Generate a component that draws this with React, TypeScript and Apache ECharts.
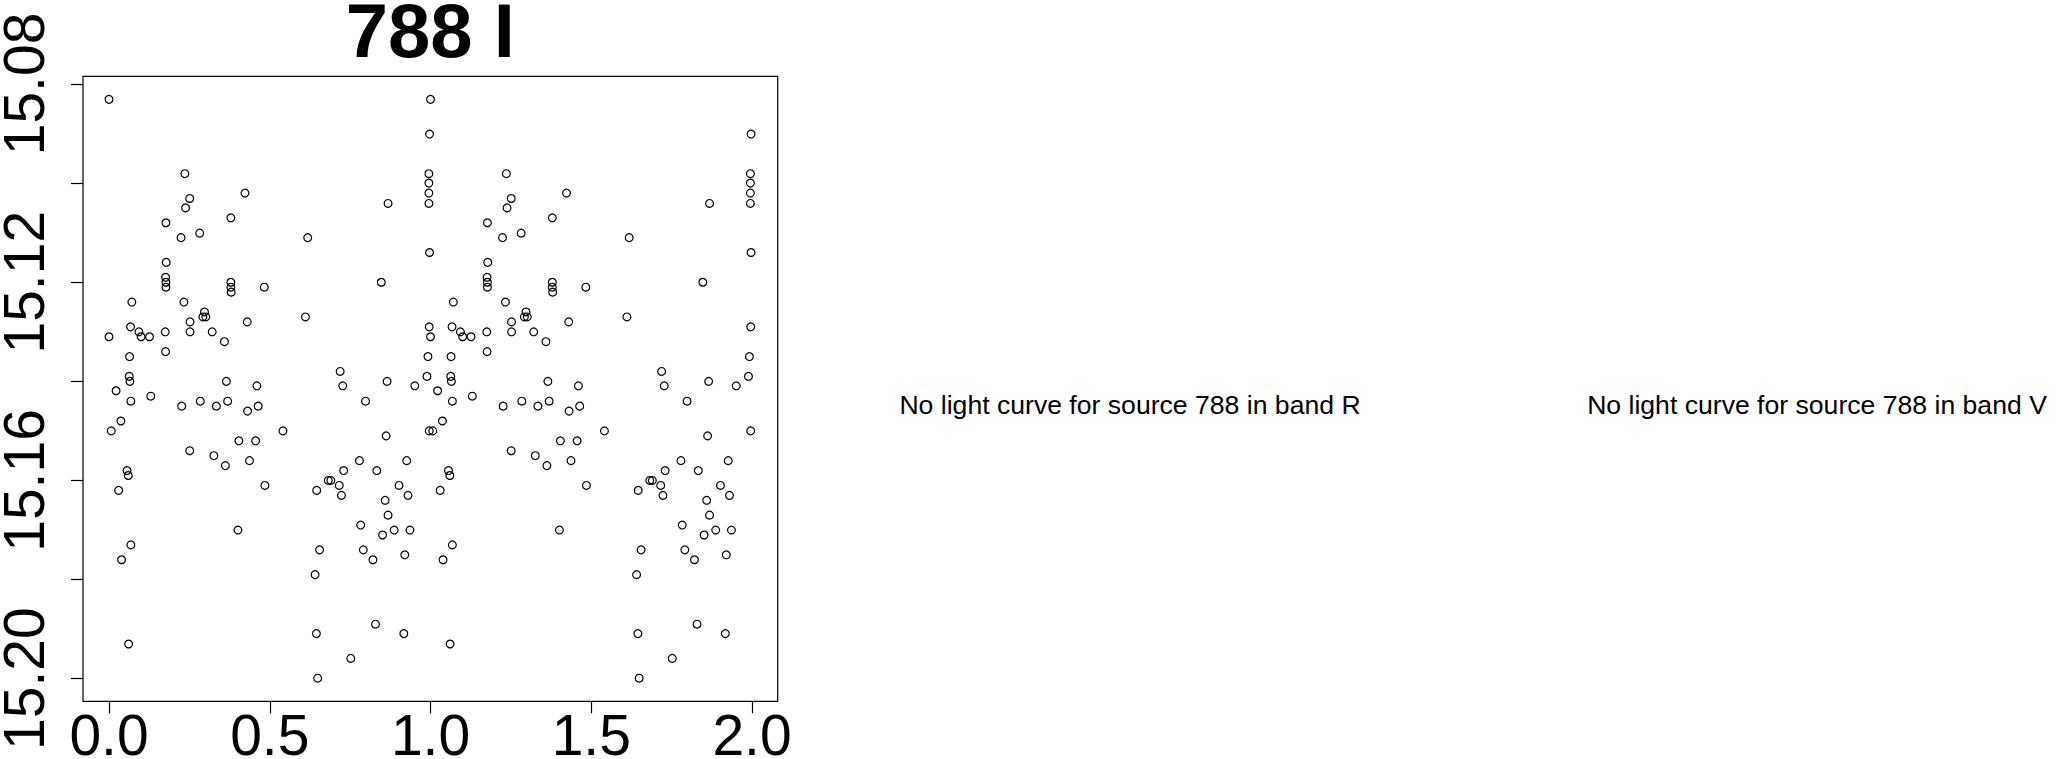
import React, { useEffect, useRef } from 'react';
import * as echarts from 'echarts';

const sourceId = '788';
const plotBand = 'I';
const missingBands = ['R', 'V'];
const xTicks = [0, 0.5, 1, 1.5, 2];
const yTicks = [15.08, 15.1, 15.12, 15.14, 15.16, 15.18, 15.2];

const phase = [
  0.000, 0.997, 0.236, 0.995, 0.995, 0.995, 0.995, 0.251, 0.238, 0.423,
  0.868, 0.177, 0.379, 0.224, 0.282, 0.618, 0.997, 0.178, 0.176, 0.177,
  0.177, 0.379, 0.379, 0.380, 0.483, 0.847, 0.071, 0.233, 0.297, 0.292,
  0.301, 0.611, 0.067, 0.093, 0.100, 0.126, 0.000, 0.175, 0.252, 0.252,
  0.321, 0.430, 0.359, 0.996, 0.064, 0.176, 0.992, 0.063, 0.065, 0.022,
  0.365, 0.460, 0.719, 0.727, 0.865, 0.951, 0.989, 0.068, 0.130, 0.226,
  0.284, 0.334, 0.369, 0.431, 0.464, 0.798, 0.037, 0.007, 0.541, 0.862,
  0.996, 0.404, 0.456, 0.251, 0.326, 0.362, 0.437, 0.056, 0.060, 0.030,
  0.485, 0.646, 0.682, 0.690, 0.716, 0.723, 0.730, 0.779, 0.833, 0.926,
  0.902, 0.930, 0.859, 0.868, 0.783, 0.851, 0.887, 0.936, 0.401, 0.068,
  0.039, 0.655, 0.791, 0.821, 0.920, 0.641, 0.645, 0.829, 0.917, 0.752,
  0.649, 0.061,
];

const mag = [
  15.0831, 15.0901, 15.0981, 15.0981, 15.1000, 15.1020, 15.1041, 15.1031, 15.1050, 15.1020,
  15.1041, 15.1080, 15.1070, 15.1110, 15.1101, 15.1110, 15.1140, 15.1160, 15.1190, 15.1200,
  15.1210, 15.1200, 15.1210, 15.1220, 15.1210, 15.1200, 15.1240, 15.1240, 15.1260, 15.1270,
  15.1270, 15.1270, 15.1290, 15.1300, 15.1310, 15.1310, 15.1310, 15.1300, 15.1280, 15.1300,
  15.1300, 15.1280, 15.1320, 15.1290, 15.1350, 15.1340, 15.1350, 15.1390, 15.1400, 15.1419,
  15.1400, 15.1409, 15.1380, 15.1409, 15.1400, 15.1409, 15.1390, 15.1440, 15.1430, 15.1450,
  15.1440, 15.1450, 15.1440, 15.1460, 15.1450, 15.1440, 15.1480, 15.1500, 15.1500, 15.1510,
  15.1500, 15.1520, 15.1520, 15.1540, 15.1550, 15.1570, 15.1560, 15.1580, 15.1590, 15.1620,
  15.1610, 15.1620, 15.1600, 15.1600, 15.1610, 15.1630, 15.1580, 15.1560, 15.1580, 15.1560,
  15.1610, 15.1630, 15.1640, 15.1670, 15.1690, 15.1710, 15.1700, 15.1700, 15.1700, 15.1730,
  15.1760, 15.1740, 15.1740, 15.1760, 15.1750, 15.1790, 15.1909, 15.1890, 15.1909, 15.1959,
  15.1999, 15.1930,
];

const FONT = '"Liberation Sans", Arial, Helvetica, sans-serif';

export default function App() {
  const ref = useRef<HTMLDivElement>(null);

  useEffect(() => {
    if (!ref.current) return;
    const chart = echarts.init(ref.current, null, { renderer: 'svg' });

    const points: number[][] = [];
    phase.forEach((p, i) => {
      points.push([p, mag[i]]);
      points.push([p + 1, mag[i]]);
    });

    const gridLeft = 109;
    const gridRight = 752;
    const gridTop = 84;
    const gridBottom = 678.7;
    const boxL = 83;
    const boxR = 777.7;
    const boxT = 76.3;
    const boxB = 701.3;

    chart.setOption({
      animation: false,
      backgroundColor: '#ffffff',
      grid: {
        left: gridLeft,
        width: gridRight - gridLeft,
        top: gridTop,
        height: gridBottom - gridTop,
        containLabel: false,
        outerBoundsMode: 'none',
      },
      xAxis: {
        type: 'value',
        min: xTicks[0],
        max: xTicks[xTicks.length - 1],
        interval: xTicks[1] - xTicks[0],
        offset: boxB - gridBottom,
        splitLine: { show: false },
        axisLine: { show: false, onZero: false },
        axisTick: { show: true, inside: false, length: 12, lineStyle: { color: '#000', width: 1.2 } },
        axisLabel: {
          show: true,
          margin: 12,
          color: '#000',
          fontSize: 57,
          lineHeight: 44,
          fontFamily: FONT,
          hideOverlap: false,
          showMinLabel: true,
          showMaxLabel: true,
          formatter: (v: number) => v.toFixed(1),
        },
      },
      yAxis: {
        type: 'value',
        inverse: true,
        min: yTicks[0],
        max: yTicks[yTicks.length - 1],
        interval: 0.02,
        offset: gridLeft - boxL,
        splitLine: { show: false },
        axisLine: { show: false, onZero: false },
        axisTick: { show: true, inside: false, length: 12, lineStyle: { color: '#000', width: 1.2 } },
        axisLabel: {
          show: true,
          rotate: 90,
          margin: 37.5,
          color: '#000',
          fontSize: 57,
          lineHeight: 44,
          fontFamily: FONT,
          hideOverlap: false,
          showMinLabel: true,
          showMaxLabel: true,
          formatter: (v: number) => {
            const idx = yTicks.findIndex((t) => Math.abs(t - v) < 1e-6);
            return idx % 2 === 0 ? v.toFixed(2) : '';
          },
        },
      },
      series: [
        {
          type: 'scatter',
          data: points,
          clip: false,
          symbol: 'circle',
          symbolSize: 7.8,
          itemStyle: {
            color: 'rgba(0,0,0,0)',
            borderColor: '#000',
            borderWidth: 1.2,
            opacity: 1,
          },
          emphasis: { disabled: true },
        },
      ],
      graphic: [
        {
          type: 'rect',
          shape: { x: boxL, y: boxT, width: boxR - boxL, height: boxB - boxT },
          style: { fill: 'none', stroke: '#000', lineWidth: 1.2 },
          silent: true,
        },
        {
          type: 'text',
          x: (boxL + boxR) / 2,
          y: 30.4,
          style: {
            text: `${sourceId} ${plotBand}`,
            font: `bold 76px ${FONT}`,
            lineHeight: 60,
            fill: '#000',
            textAlign: 'center',
            textVerticalAlign: 'middle',
          },
          silent: true,
        },
        {
          type: 'text',
          x: 1130,
          y: 404.5,
          style: {
            text: `No light curve for source ${sourceId} in band ${missingBands[0]}`,
            font: `26.6px ${FONT}`,
            fill: '#000',
            textAlign: 'center',
            textVerticalAlign: 'middle',
          },
          silent: true,
        },
        {
          type: 'text',
          x: 1817,
          y: 404.5,
          style: {
            text: `No light curve for source ${sourceId} in band ${missingBands[1]}`,
            font: `26.6px ${FONT}`,
            fill: '#000',
            textAlign: 'center',
            textVerticalAlign: 'middle',
          },
          silent: true,
        },
      ],
    });

    return () => {
      chart.dispose();
    };
  }, []);

  return (
    <div
      ref={ref}
      style={{ position: 'fixed', left: 0, top: 0, width: 2057, height: 759, background: '#fff' }}
    />
  );
}
